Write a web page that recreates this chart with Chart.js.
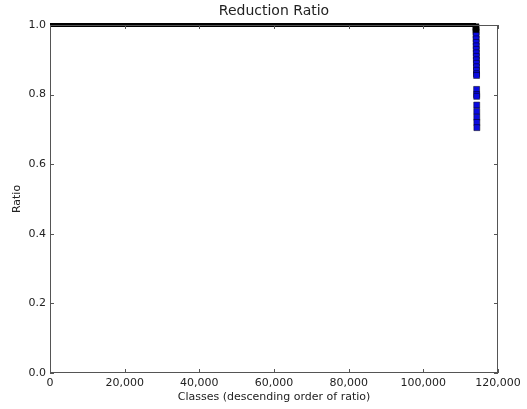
<!DOCTYPE html>
<html>
<head>
<meta charset="utf-8">
<title>Reduction Ratio</title>
<script src="https://cdn.jsdelivr.net/npm/chart.js@4.4.1/dist/chart.umd.min.js"></script>
<style>
  body { margin: 0; background: #fff; }
  #wrap { width: 527px; height: 409px; }
</style>
</head>
<body>
<div id="wrap"><canvas id="ratioChart" width="527" height="409"></canvas></div>
<script>
// classes that keep a ratio of 1.0 (so many they merge into one black run)
const plateauClasses = [0, 114100];
const plateauRatio = [1.0, 1.0];

// the few classes at the end where the ratio drops off
const tailClasses = [114100, 114110, 114120, 114130, 114140, 114150, 114160, 114170,
                     114180, 114190, 114200, 114210, 114220, 114230, 114240, 114250,
                     114260, 114270, 114280, 114290, 114300, 114310, 114320, 114330, 114340];
const tailRatio = [0.995, 0.99, 0.985, 0.98, 0.97, 0.96, 0.95, 0.94,
                   0.93, 0.92, 0.91, 0.90, 0.89, 0.88, 0.87, 0.86,
                   0.855, 0.815, 0.80, 0.795, 0.77, 0.752, 0.735, 0.72, 0.705];

const xTicks = [0, 20000, 40000, 60000, 80000, 100000, 120000];
const yTicks = [0.0, 0.2, 0.4, 0.6, 0.8, 1.0];

const FONT = "'DejaVu Sans', sans-serif";
const TEXT = '#222';
const AXIS = '#555';

// matplotlib style box with inward ticks on all four sides
const frameTicks = {
    id: 'frameTicks',
    afterDraw(chart) {
        const {ctx, chartArea: a, scales} = chart;
        ctx.save();
        ctx.strokeStyle = AXIS;
        ctx.lineWidth = 1;
        ctx.strokeRect(a.left + 0.5, a.top + 0.5, a.right - a.left - 1, a.bottom - a.top - 1);
        ctx.beginPath();
        xTicks.forEach(v => {
            const px = Math.round(scales.x.getPixelForValue(v)) + 0.5;
            ctx.moveTo(px, a.bottom); ctx.lineTo(px, a.bottom - 4);
            ctx.moveTo(px, a.top); ctx.lineTo(px, a.top + 4);
        });
        yTicks.forEach(v => {
            const py = Math.round(scales.y.getPixelForValue(v)) + 0.5;
            ctx.moveTo(a.left, py); ctx.lineTo(a.left + 4, py);
            ctx.moveTo(a.right, py); ctx.lineTo(a.right - 4, py);
        });
        ctx.stroke();
        ctx.restore();
    }
};

new Chart(document.getElementById('ratioChart'), {
    type: 'scatter',
    data: {
        datasets: [
            {
                type: 'line',
                data: plateauClasses.map((c, i) => ({x: c, y: plateauRatio[i]})),
                borderColor: '#000',
                borderWidth: 4,
                pointRadius: 0,
                clip: false
            },
            {
                data: tailClasses.map((c, i) => ({x: c, y: tailRatio[i]})),
                pointStyle: 'rect',
                pointRadius: 4.2,
                pointBorderWidth: 0.5,
                pointBorderColor: '#000',
                pointBackgroundColor: ctx => (ctx.raw && ctx.raw.y >= 0.98) ? '#000' : '#0a0ae0',
                clip: false
            }
        ]
    },
    options: {
        responsive: false,
        animation: false,
        layout: {padding: {left: 11, right: 29, top: 0, bottom: 0}},
        plugins: {
            legend: {display: false},
            tooltip: {enabled: false},
            title: {
                display: true,
                text: 'Reduction Ratio',
                fullSize: false,
                color: TEXT,
                font: {family: FONT, size: 14, weight: 'normal'},
                padding: {top: 3, bottom: 5.2}
            }
        },
        scales: {
            x: {
                type: 'linear',
                min: 0,
                max: 120000,
                afterBuildTicks: s => { s.ticks = xTicks.map(v => ({value: v})); },
                afterFit: s => { s.height = 36; },
                grid: {display: false},
                border: {display: false},
                ticks: {
                    color: TEXT,
                    font: {family: FONT, size: 11},
                    padding: -4,
                    maxRotation: 0,
                    callback: v => v.toLocaleString('en-US')
                },
                title: {
                    display: true,
                    text: 'Classes (descending order of ratio)',
                    color: TEXT,
                    font: {family: FONT, size: 11},
                    padding: {top: 0, bottom: 5}
                }
            },
            y: {
                type: 'linear',
                min: 0,
                max: 1.0,
                afterBuildTicks: s => { s.ticks = yTicks.map(v => ({value: v})); },
                afterFit: s => { s.width = 39; },
                grid: {display: false},
                border: {display: false},
                ticks: {
                    color: TEXT,
                    font: {family: FONT, size: 11},
                    padding: -4,
                    callback: v => v.toFixed(1)
                },
                title: {
                    display: true,
                    text: 'Ratio',
                    color: TEXT,
                    font: {family: FONT, size: 11},
                    padding: {top: 0, bottom: 0}
                }
            }
        }
    },
    plugins: [frameTicks]
});
</script>
</body>
</html>
